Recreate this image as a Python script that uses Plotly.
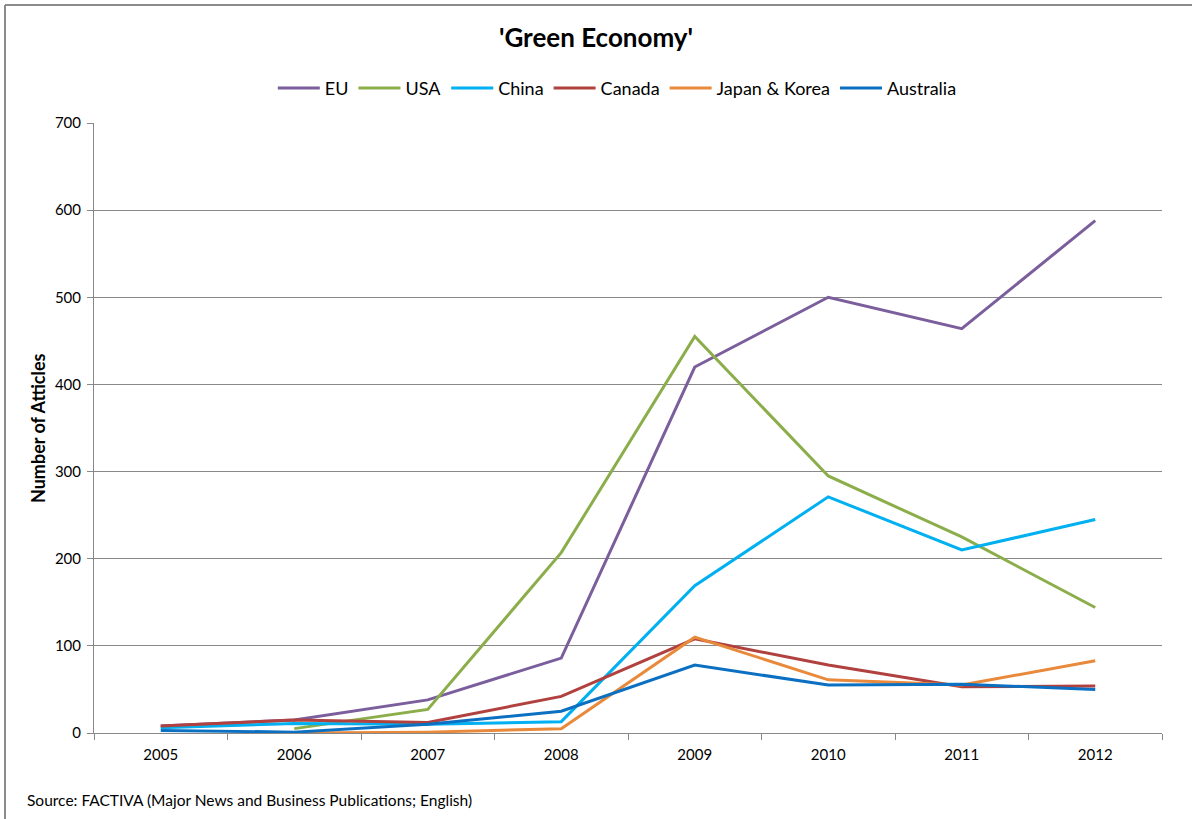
import plotly.graph_objects as go

years = ["2005", "2006", "2007", "2008", "2009", "2010", "2011", "2012"]
eu = [8, 15, 38, 86, 420, 500, 464, 588]
usa = [None, 5, 27, 207, 455, 295, 225, 144]
china = [6, 11, 10, 13, 169, 271, 210, 245]
canada = [8, 15, 12, 42, 108, 78, 53, 54]
japan_korea = [None, 0, 1, 5, 110, 61, 55, 83]
australia = [3, 1, 10, 25, 78, 55, 56, 50]

series = [
    ("EU", eu, "#7B5E9C"),
    ("USA", usa, "#8BAE4B"),
    ("China", china, "#00B0F0"),
    ("Canada", canada, "#B0413E"),
    ("Japan & Korea", japan_korea, "#E8893B"),
    ("Australia", australia, "#0B70C1"),
]

FONT = "Lato"
fig = go.Figure()
for name, vals, col in series:
    fig.add_trace(go.Scatter(x=years, y=vals, name=name, mode="lines",
                             line=dict(color=col, width=3), connectgaps=False))

fig.update_layout(
    width=1192, height=819,
    margin=dict(l=94, r=30, t=123, b=86),
    paper_bgcolor="white", plot_bgcolor="white",
    font=dict(family=FONT, size=15, color="#000"),
    title=dict(text="<b>'Green Economy'</b>", x=0.5, xref="container", xanchor="center",
               y=1 - 38 / 819, yref="container", yanchor="middle",
               font=dict(family=FONT, size=26, color="#000")),
    legend=dict(orientation="h", x=0.49, xanchor="center", y=1.057, yanchor="middle",
                font=dict(family=FONT, size=18), itemwidth=42, traceorder="normal"),
    showlegend=True,
)
fig.update_xaxes(type="category", range=[-0.5, 7.5], tickson="boundaries",
                 ticks="outside", ticklen=6, tickcolor="#888", showline=True,
                 linecolor="#888", linewidth=1, showgrid=False, ticklabelstandoff=8,
                 tickfont=dict(family=FONT, size=15))
fig.update_yaxes(range=[0, 700], dtick=100, ticks="outside", ticklen=6, tickcolor="#888",
                 showline=True, linecolor="#888", linewidth=1, showgrid=True,
                 gridcolor="#888", gridwidth=1, zeroline=False, ticklabelstandoff=3,
                 tickfont=dict(family=FONT, size=15))

fig.add_annotation(text="<b>Number of Atticles</b>", textangle=-90, xref="paper", yref="paper",
                   x=(38 - 94) / 1068, y=(733 - 428) / 610, xanchor="center", yanchor="middle",
                   showarrow=False, font=dict(family=FONT, size=18))
fig.add_annotation(text="Source: FACTIVA (Major News and Business Publications; English)",
                   xref="paper", yref="paper", x=(25 - 94) / 1068, y=(733 - 800) / 610,
                   xanchor="left", yanchor="middle", showarrow=False,
                   font=dict(family=FONT, size=15.5))
# chart border (top and left visible)
fig.add_shape(type="line", xref="paper", yref="paper", x0=(5 - 94) / 1068, x1=(1192 - 94) / 1068,
              y0=(733 - 5) / 610, y1=(733 - 5) / 610, line=dict(color="#8c8c8c", width=2))
fig.add_shape(type="line", xref="paper", yref="paper", x0=(5 - 94) / 1068, x1=(5 - 94) / 1068,
              y0=(733 - 5) / 610, y1=(733 - 819) / 610, line=dict(color="#8c8c8c", width=2))

fig.write_html("out.html")
